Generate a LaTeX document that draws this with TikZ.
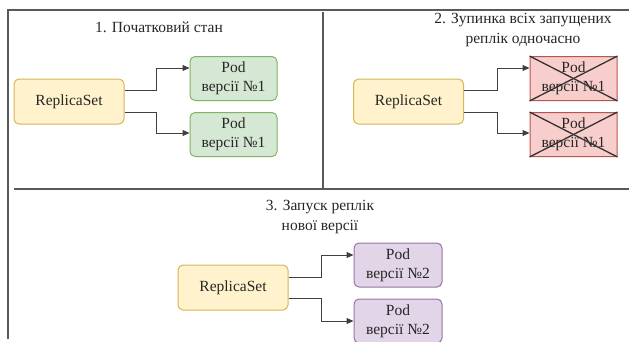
\documentclass[tikz,border=0pt]{standalone}
\usepackage{fontspec}
\setmainfont{Liberation Serif}
\newfontfamily\tnr{Liberation Serif}
\usetikzlibrary{arrows.meta}
\definecolor{rsfill}{HTML}{FFF2CC}
\definecolor{rsdraw}{HTML}{D6B656}
\definecolor{gfill}{HTML}{D5E8D4}
\definecolor{gdraw}{HTML}{82B366}
\definecolor{rfill}{HTML}{F8CECC}
\definecolor{rdraw}{HTML}{B85450}
\definecolor{pfill}{HTML}{E1D5E7}
\definecolor{pdraw}{HTML}{9673A6}
\definecolor{txt}{HTML}{262626}
\tikzset{
  box/.style={rectangle, rounded corners=5pt, line width=1pt, align=center,
    font=\tnr\fontsize{15.5}{19}\selectfont, text=txt, inner sep=0pt},
  rsbox/.style={box, fill=rsfill, draw=rsdraw, minimum width=110pt, minimum height=45pt},
  podg/.style={box, fill=gfill, draw=gdraw, minimum width=87pt, minimum height=44pt},
  podr/.style={box, fill=rfill, draw=rdraw, rounded corners=1pt, minimum width=87pt, minimum height=44pt},
  podp/.style={box, fill=pfill, draw=pdraw, minimum width=88pt, minimum height=44pt},
  conn/.style={draw=black!75, line width=1pt, -{Triangle[length=7pt,width=6pt]}},
  cross/.style={draw=black!80, line width=1.3pt},
  frame/.style={draw=black!65, line width=1.3pt},
  ttl/.style={align=center, font=\tnr\fontsize{15.5}{20}\selectfont, text=txt}
}
\begin{document}
\begin{tikzpicture}[x=1pt,y=-1pt]
\useasboundingbox (0,0) rectangle (629,341);
% frame lines
\draw[frame] (8,339) -- (8,10) -- (629,10);
\draw[frame] (14,189) -- (629,189);
\draw[frame] (323,12) -- (323,189);
% panel 1
\node[ttl] (t1) at (159,27) {1. Початковий стан};
\node[rsbox] (rs1) at (69,101.5) {ReplicaSet};
\node[podg] (p1a) at (233.5,78.5) {Pod\\версії №1};
\node[podg] (p1b) at (233.5,134.5) {Pod\\версії №1};
\draw[conn] ([yshift=11.5pt]rs1.east) -- ++(32,0) |- ([yshift=10.5pt]p1a.west);
\draw[conn] ([yshift=-10.5pt]rs1.east) -- ++(32,0) |- ([yshift=1.5pt]p1b.west);
% panel 2
\node[ttl] (t2) at (523,30) {2. Зупинка всіх запущених\\реплік одночасно};
\node[rsbox] (rs2) at (408.5,101.5) {ReplicaSet};
\node[podr] (p2a) at (573.5,78.5) {Pod\\версії №1};
\node[podr] (p2b) at (573.5,134.5) {Pod\\версії №1};
\draw[conn] ([yshift=11.5pt]rs2.east) -- ++(33,0) |- ([yshift=10.5pt]p2a.west);
\draw[conn] ([yshift=-10.5pt]rs2.east) -- ++(33,0) |- ([yshift=1.5pt]p2b.west);
\draw[cross] (p2a.north west) -- (p2a.south east);
\draw[cross] (p2a.south west) -- (p2a.north east);
\draw[cross] (p2b.north west) -- (p2b.south east);
\draw[cross] (p2b.south west) -- (p2b.north east);
% panel 3
\node[ttl] (t3) at (320,217.5) {3. Запуск реплік\\нової версії};
\node[rsbox] (rs3) at (233,287.5) {ReplicaSet};
\node[podp] (p3a) at (398,265) {Pod\\версії №2};
\node[podp] (p3b) at (398,321) {Pod\\версії №2};
\draw[conn] ([yshift=10.5pt]rs3.east) -- ++(33,0) |- ([yshift=10pt]p3a.west);
\draw[conn] ([yshift=-10.5pt]rs3.east) -- ++(33,0) |- (p3b.west);
\end{tikzpicture}
\end{document}
